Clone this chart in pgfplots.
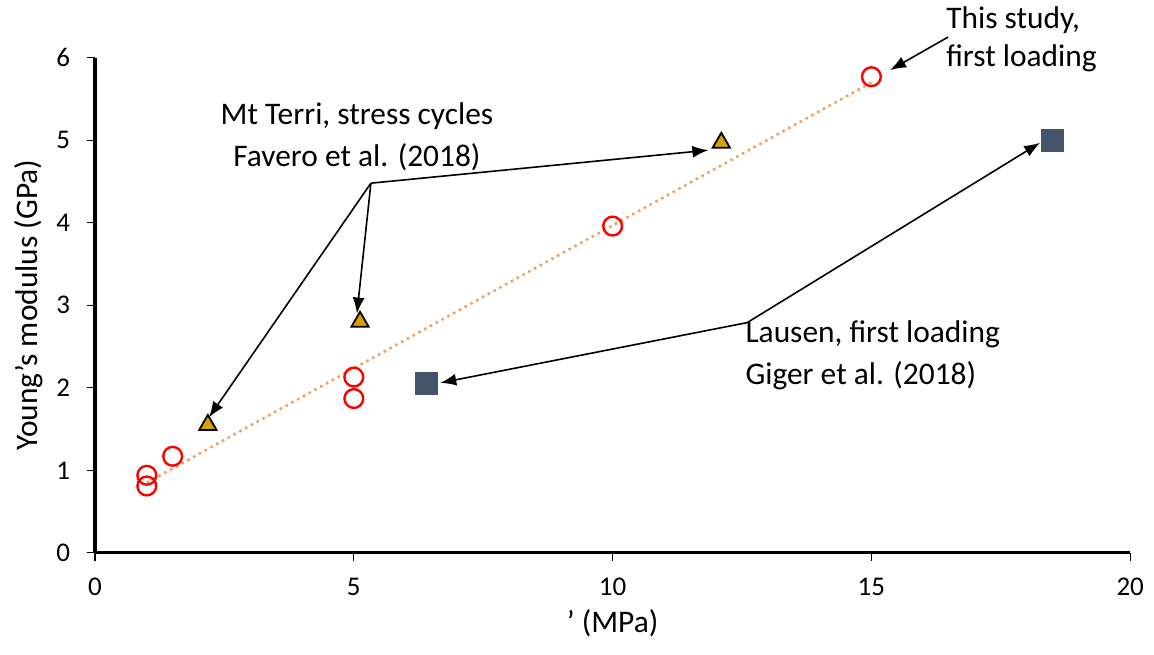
\documentclass[border=0pt]{standalone}
\usepackage{pgfplots}
\pgfplotsset{compat=1.18}
\usepackage{fontspec}
\setmainfont{Carlito}
\usetikzlibrary{arrows.meta}
\definecolor{ptred}{RGB}{255,0,0}
\definecolor{tri}{RGB}{214,160,0}
\definecolor{sq}{RGB}{68,84,106}
\definecolor{trend}{RGB}{246,160,90}
\begin{document}
\begin{tikzpicture}
\begin{axis}[
    scale only axis,
    width=517.5pt, height=247.5pt,
    xmin=0, xmax=20, ymin=0, ymax=6,
    xtick={0,5,10,15,20}, ytick={0,1,...,6},
    axis lines=left,
    axis line style={-, line width=1.6pt},
    tick align=outside,
    major tick length=4pt,
    tick style={black, line width=0.6pt},
    clip=false,
    /pgf/number format/assume math mode=true,
    tick label style={font=\fontsize{13.5}{16}\selectfont},
    label style={font=\fontsize{15.7}{19}\selectfont},
    xlabel={’ (MPa)},
    ylabel={Young’s modulus (GPa)},
    xticklabel style={yshift=-5pt},
    yticklabel style={xshift=-5pt},
]
% trend line (this study)
\addplot[trend, dotted, line width=1.3pt] coordinates {(1,0.85) (15,5.70)};
% this study, first loading
\addplot[only marks, mark=o, mark size=4.7pt, ptred, line width=1.2pt] coordinates {
    (1,0.81) (1,0.94) (1.5,1.17) (5,2.13) (5,1.87) (10,3.96) (15,5.77)
};
% Mt Terri, Favero et al.
\addplot[only marks, mark=triangle*, mark size=5pt, mark options={fill=tri, draw=black, line width=0.9pt}] coordinates {
    (2.18,1.55) (5.12,2.80) (12.1,4.97)
};
% Lausen, Giger et al.
\addplot[only marks, mark=square*, mark size=5.5pt, mark options={fill=sq, draw=sq}] coordinates {
    (6.4,2.05) (18.5,5.00)
};
% annotations
\draw[-{Latex[length=8pt,width=6pt]}, line width=0.8pt] (axis cs:5.33,4.48) -- (axis cs:2.2,1.64);
\draw[-{Latex[length=8pt,width=6pt]}, line width=0.8pt] (axis cs:5.33,4.48) -- (axis cs:5.06,2.90);
\draw[-{Latex[length=8pt,width=6pt]}, line width=0.8pt] (axis cs:5.33,4.48) -- (axis cs:11.85,4.88);
\draw[-{Latex[length=8pt,width=6pt]}, line width=0.8pt] (axis cs:12.6,2.79) -- (axis cs:6.67,2.06);
\draw[-{Latex[length=8pt,width=6pt]}, line width=0.8pt] (axis cs:12.6,2.79) -- (axis cs:18.26,4.97);
\draw[-{Latex[length=8pt,width=6pt]}, line width=0.8pt] (axis cs:16.48,6.25) -- (axis cs:15.36,5.85);
\node[align=center, font=\fontsize{15.7}{21}\selectfont] at (axis cs:5.06,5.04) {Mt Terri, stress cycles\\Favero et al. (2018)};
\node[align=left, anchor=west, inner sep=0pt, font=\fontsize{15.7}{19}\selectfont] at (axis cs:16.44,6.22) {This study,\\first loading};
\node[align=left, anchor=west, inner sep=0pt, font=\fontsize{15.7}{21}\selectfont] at (axis cs:12.56,2.39) {Lausen, first loading\\Giger et al. (2018)};
\coordinate (bl) at (axis cs:-1.836,-1.236);
\coordinate (tr) at (axis cs:20.46,6.70);
\end{axis}
\pgfresetboundingbox
\path (bl) rectangle (tr);
\end{tikzpicture}
\end{document}
